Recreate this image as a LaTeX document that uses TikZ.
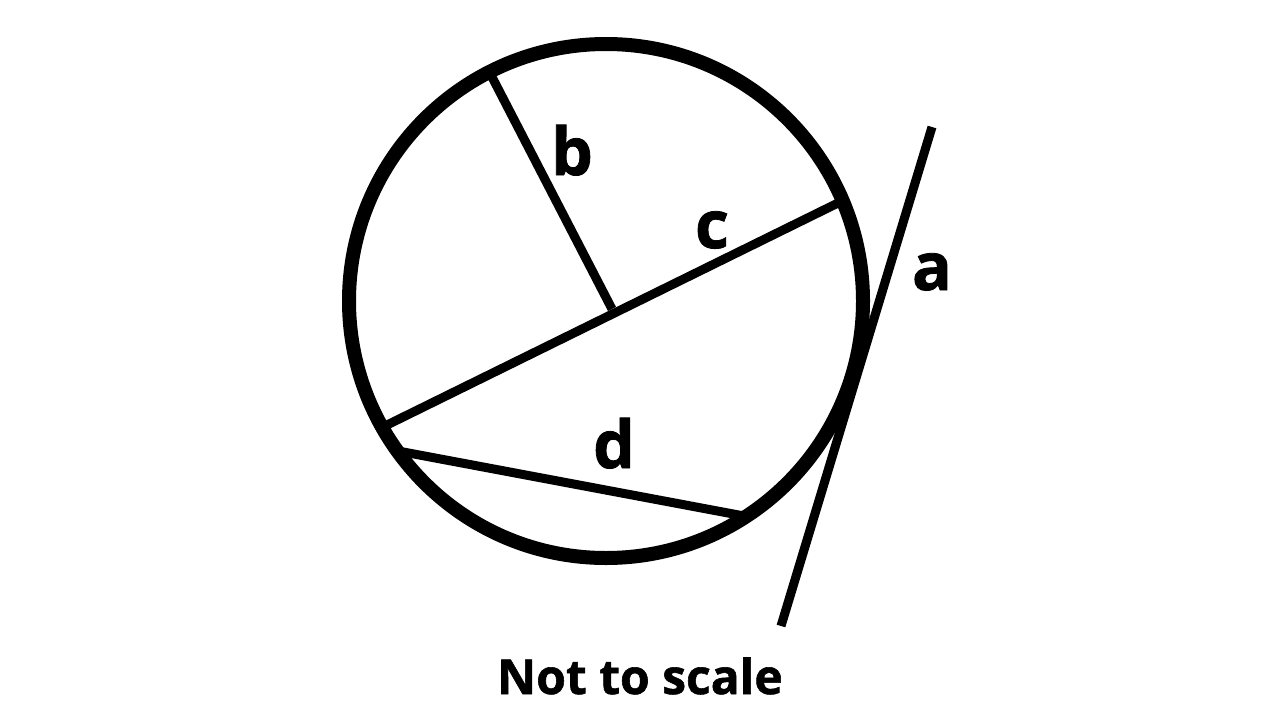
\documentclass[tikz,border=0pt]{standalone}
\usepackage{fontspec}
\setmainfont{Open Sans}[BoldFeatures={FakeBold=1.2}]
\begin{document}
\begin{tikzpicture}[x=1pt,y=-1pt,
  thick line/.style={line width=9pt,line cap=butt},
  lbl/.style={font=\fontsize{66}{70}\selectfont\bfseries,anchor=base,inner sep=0pt}]
\useasboundingbox[fill=white] (0,0) rectangle (1280,720);
\coordinate (O) at (606,301);
\draw[line width=14pt] (O) circle[radius=257];
\coordinate (c1) at (387,425);
\coordinate (c2) at (838,203);
\coordinate (b1) at (492,77);
\coordinate (b2) at (612,309);
\coordinate (d1) at (398,451);
\coordinate (d2) at (744,516);
\coordinate (a1) at (932,127);
\coordinate (a2) at (781,626);
\draw[thick line] (c1) -- (c2);
\draw[thick line] (b1) -- (b2);
\draw[thick line] (d1) -- (d2);
\draw[thick line] (a1) -- (a2);
\node[lbl] (lb) at (572,175) {b};
\node[lbl] (lc) at (712,248) {c};
\node[lbl] (la) at (932,290) {a};
\node[lbl] (ld) at (614,468) {d};
\node[font=\fontsize{48}{50}\selectfont\bfseries,anchor=base,inner sep=0pt] (cap) at (640,694) {Not to scale};
\end{tikzpicture}
\end{document}
